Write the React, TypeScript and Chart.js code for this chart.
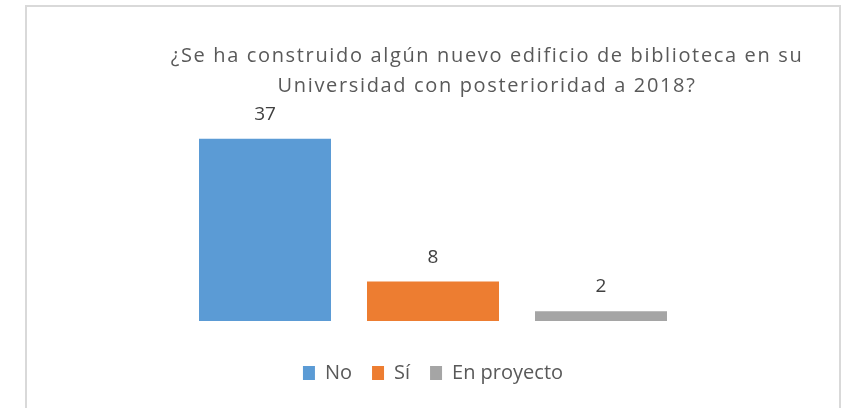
import React, { useEffect, useRef } from "react";
import { Chart, registerables } from "chart.js";

Chart.register(...registerables);

const categories = ["No", "Sí", "En proyecto"];
const values = [37, 8, 2];
const colors = ["#5B9BD5", "#ED7D31", "#A5A5A5"];
const titleLines = [
  "¿Se ha construido algún nuevo edificio de biblioteca en su",
  "Universidad con posterioridad a 2018?",
];

const FONT = "'Open Sans', 'Noto Sans', sans-serif";

const framePlugin = {
  id: "frame",
  beforeDraw(chart: any) {
    const { ctx, width, height } = chart;
    ctx.save();
    ctx.fillStyle = "#ffffff";
    ctx.fillRect(0, 0, width, height);
    ctx.strokeStyle = "#d9d9d9";
    ctx.lineWidth = 2;
    ctx.strokeRect(26, 6, 814, height + 20);
    ctx.restore();
  },
};

const titlePlugin = {
  id: "customTitle",
  afterDraw(chart: any) {
    const { ctx } = chart;
    ctx.save();
    ctx.fillStyle = "#595959";
    ctx.font = `20px ${FONT}`;
    (ctx as any).letterSpacing = "1.65px";
    ctx.textAlign = "center";
    ctx.textBaseline = "alphabetic";
    const baselines = [62, 92];
    titleLines.forEach((line, i) => ctx.fillText(line, 487, baselines[i]));
    ctx.restore();
  },
};

const valueLabelPlugin = {
  id: "valueLabels",
  afterDatasetsDraw(chart: any) {
    const { ctx } = chart;
    ctx.save();
    ctx.fillStyle = "#404040";
    ctx.font = `19px ${FONT}`;
    ctx.textAlign = "center";
    ctx.textBaseline = "alphabetic";
    chart.data.datasets.forEach((ds: any, i: number) => {
      const meta = chart.getDatasetMeta(i);
      meta.data.forEach((bar: any, j: number) => {
        ctx.fillText(String(ds.data[j]), bar.x, bar.y - 19);
      });
    });
    ctx.restore();
  },
};

export default function App() {
  const ref = useRef<HTMLCanvasElement | null>(null);
  useEffect(() => {
    if (!ref.current) return;
    const chart = new Chart(ref.current, {
      type: "bar",
      data: {
        labels: [""],
        datasets: categories.map((c, i) => ({
          label: c,
          data: [values[i]],
          backgroundColor: colors[i],
          borderWidth: 0,
        })),
      },
      options: {
        animation: false,
        responsive: false,
        devicePixelRatio: 1,
        layout: { padding: { left: 181, right: 161, top: 124, bottom: 15 } },
        datasets: { bar: { categoryPercentage: 1, barPercentage: 132 / 168 } },
        scales: {
          x: { display: false },
          y: { display: false, min: 0, max: 40 },
        },
        plugins: {
          title: { display: false },
          tooltip: { enabled: false },
          legend: {
            position: "bottom",
            title: { display: true, text: "", font: { size: 10 }, padding: { top: 10, bottom: 0 } },
            labels: {
              color: "#595959",
              font: { size: 20, family: FONT },
              boxWidth: 12,
              boxHeight: 14,
              padding: 20,
            },
          },
        },
      },
      plugins: [framePlugin, titlePlugin, valueLabelPlugin],
    });
    return () => chart.destroy();
  }, []);
  return (
    <div style={{ position: "fixed", left: 0, top: 0, width: 846, height: 408 }}>
      <canvas ref={ref} width={846} height={408} />
    </div>
  );
}
